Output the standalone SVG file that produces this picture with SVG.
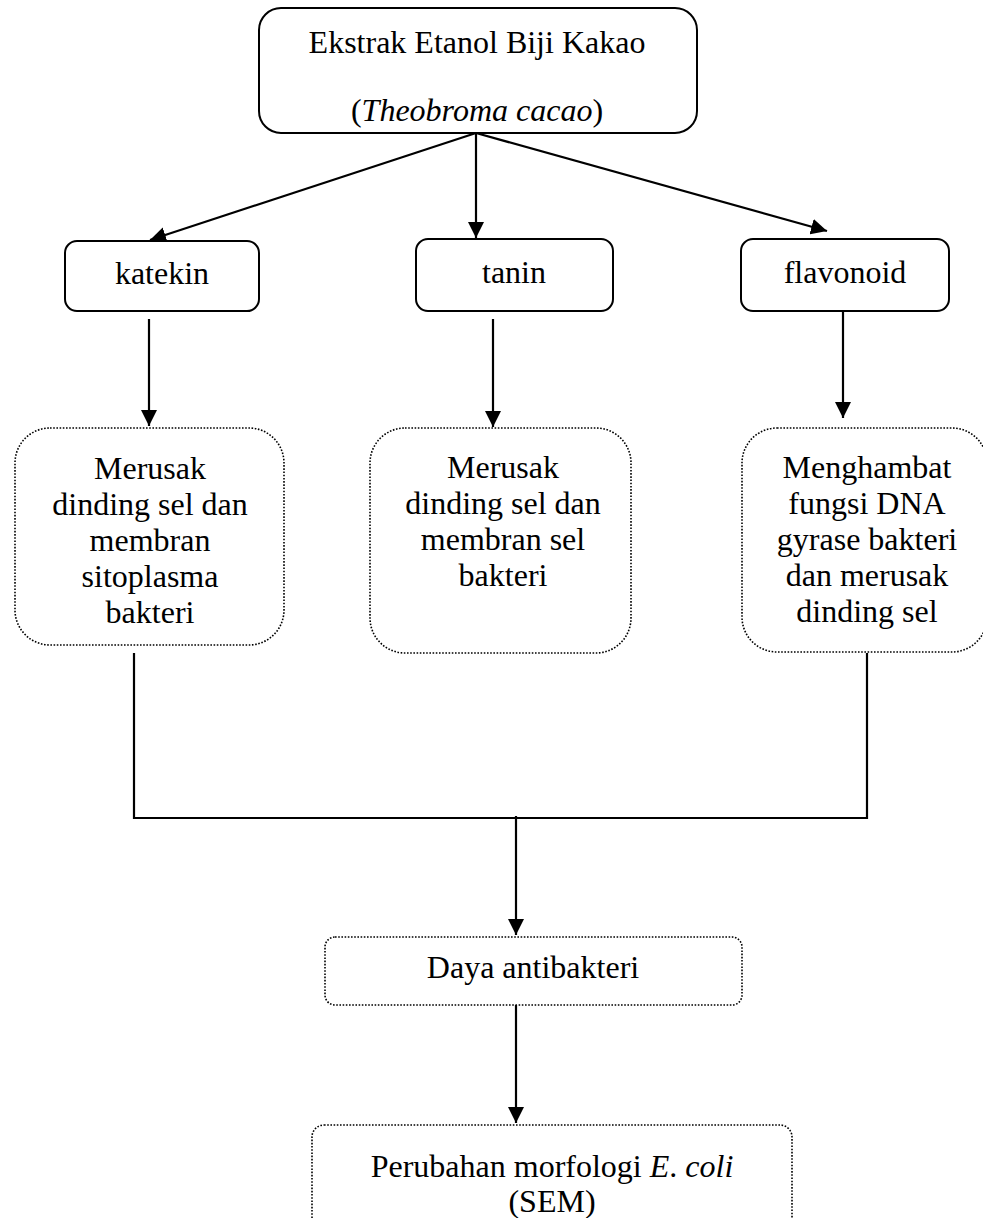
<svg xmlns="http://www.w3.org/2000/svg" width="983" height="1218" viewBox="0 0 983 1218">
<style>
.solid{fill:#fff;stroke:#000;stroke-width:2}
.dot{fill:#fff;stroke:#000;stroke-width:1.6;stroke-dasharray:1.6 1.6}
.t{font-family:"Liberation Serif","Times New Roman",serif;font-size:32px;fill:#000;text-anchor:middle}
.c{fill:none;stroke:#000;stroke-width:2.2}
</style>
<defs>
<marker id="ah" markerUnits="userSpaceOnUse" markerWidth="17" markerHeight="16" refX="16" refY="8" orient="auto">
<path d="M0,0 L16,8 L0,16 Z" fill="#000"/>
</marker>
</defs>
<g id="connectors">
<line class="c" x1="476" y1="133" x2="150" y2="240" marker-end="url(#ah)"/>
<line class="c" x1="476" y1="133" x2="476" y2="238" marker-end="url(#ah)"/>
<line class="c" x1="476" y1="133" x2="827" y2="231" marker-end="url(#ah)"/>
<line class="c" x1="149" y1="319" x2="149" y2="426" marker-end="url(#ah)"/>
<line class="c" x1="493" y1="319" x2="493" y2="427" marker-end="url(#ah)"/>
<line class="c" x1="843" y1="311" x2="843" y2="418" marker-end="url(#ah)"/>
<polyline class="c" points="134,653 134,818 867,818 867,653"/>
<line class="c" x1="516" y1="816" x2="516" y2="935" marker-end="url(#ah)"/>
<line class="c" x1="516" y1="1005" x2="516" y2="1123" marker-end="url(#ah)"/>
</g>
<g id="node-ekstrak">
<rect class="solid" x="259" y="8" width="438" height="125" rx="22"/>
<text class="t" x="477" y="53">Ekstrak Etanol Biji Kakao</text>
<text class="t" x="477" y="121">(<tspan font-style="italic">Theobroma cacao</tspan>)</text>
</g>
<g id="node-katekin">
<rect class="solid" x="65" y="241" width="194" height="70" rx="12"/>
<text class="t" x="162" y="284">katekin</text>
</g>
<g id="node-tanin">
<rect class="solid" x="416" y="239" width="197" height="72" rx="12"/>
<text class="t" x="514" y="283">tanin</text>
</g>
<g id="node-flavonoid">
<rect class="solid" x="741" y="239" width="208" height="72" rx="12"/>
<text class="t" x="845" y="283">flavonoid</text>
</g>
<g id="node-katekin-effect">
<rect class="dot" x="15" y="428" width="269" height="217" rx="35"/>
<text class="t" x="150" y="479">Merusak</text>
<text class="t" x="150" y="515">dinding sel dan</text>
<text class="t" x="150" y="551">membran</text>
<text class="t" x="150" y="587">sitoplasma</text>
<text class="t" x="150" y="623">bakteri</text>
</g>
<g id="node-tanin-effect">
<rect class="dot" x="370" y="428" width="261" height="225" rx="35"/>
<text class="t" x="503" y="478">Merusak</text>
<text class="t" x="503" y="514">dinding sel dan</text>
<text class="t" x="503" y="550">membran sel</text>
<text class="t" x="503" y="586">bakteri</text>
</g>
<g id="node-flavonoid-effect">
<rect class="dot" x="742" y="428" width="245" height="224" rx="35"/>
<text class="t" x="867" y="478">Menghambat</text>
<text class="t" x="867" y="514">fungsi DNA</text>
<text class="t" x="867" y="550">gyrase bakteri</text>
<text class="t" x="867" y="586">dan merusak</text>
<text class="t" x="867" y="622">dinding sel</text>
</g>
<g id="node-daya">
<rect class="dot" x="325" y="937" width="417" height="68" rx="10"/>
<text class="t" x="533" y="978">Daya antibakteri</text>
</g>
<g id="node-perubahan">
<rect class="dot" x="312" y="1125" width="480" height="110" rx="12"/>
<text class="t" x="552" y="1177">Perubahan morfologi <tspan font-style="italic">E</tspan>. <tspan font-style="italic">coli</tspan></text>
<text class="t" x="552" y="1212">(SEM)</text>
</g>
</svg>
